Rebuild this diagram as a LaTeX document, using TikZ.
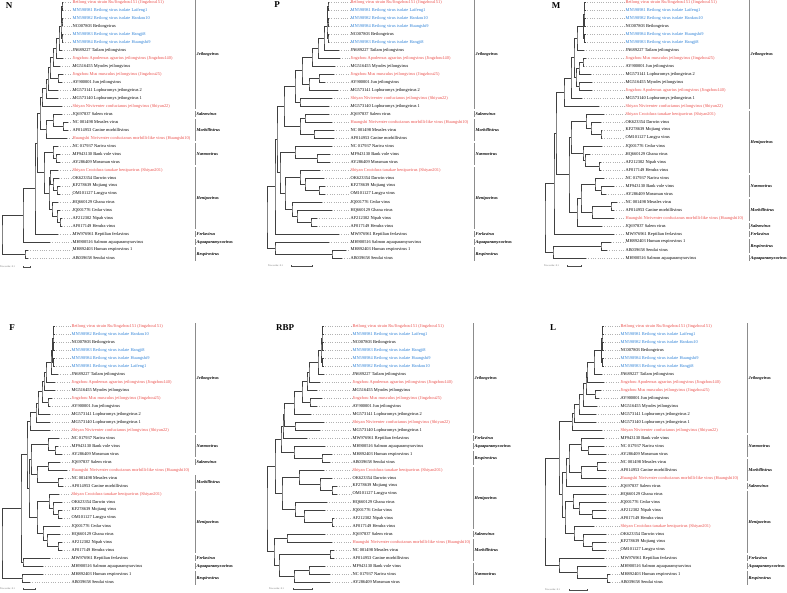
\documentclass[tikz,border=0pt]{standalone}
\usepackage{fontspec}
\setmainfont{Liberation Serif}
\usepackage{xcolor}
\usetikzlibrary{calc,arrows.meta}

\definecolor{novel}{RGB}{234,78,74}
\definecolor{isolate}{RGB}{44,128,214}

% taxon labels
\newcommand{\txjz}{\textcolor{novel}{Beilong virus strain Ru/Jingzhou151 (Jingzhou151)}}
\newcommand{\txlf}{\textcolor{isolate}{MN598981 Beilong virus isolate Laifeng1}}
\newcommand{\txhk}{\textcolor{isolate}{MN598982 Beilong virus isolate Hankou10}}
\newcommand{\txnc}{NC007803 Beilongvirus}
\newcommand{\txhj}{\textcolor{isolate}{MN598983 Beilong virus isolate Hangji8}}
\newcommand{\txhs}{\textcolor{isolate}{MN598984 Beilong virus isolate Huangshi9}}
\newcommand{\txtl}{JN689227 Tailam jeilongvirus}
\newcommand{\txapo}{\textcolor{novel}{Jingzhou Apodemus agrarius jeilongvirus (Jingzhou140)}}
\newcommand{\txmyo}{MG516455 Myodes jeilongvirus}
\newcommand{\txmus}{\textcolor{novel}{Jingzhou Mus musculus jeilongvirus (Jingzhou25)}}
\newcommand{\txjun}{AY900001 Jun jeilongvirus}
\newcommand{\txlotw}{MG573141 Lophuromys jeilongvirus 2}
\newcommand{\txlone}{MG573140 Lophuromys jeilongvirus 1}
\newcommand{\txniv}{\textcolor{novel}{Shiyan Niviventer confucianus jeilongvirus (Shiyan22)}}
\newcommand{\txsal}{JQ697837 Salem virus}
\newcommand{\txmea}{NC 001498 Measles virus}
\newcommand{\txcan}{AF014953 Canine morbillivirus}
\newcommand{\txmor}{\textcolor{novel}{Huangshi Niviventer confucianus morbilli-like virus (Huangshi10)}}
\newcommand{\txnar}{NC 017937 Nariva virus}
\newcommand{\txbvv}{MF943130 Bank vole virus}
\newcommand{\txmos}{AY286409 Mossman virus}
\newcommand{\txcro}{\textcolor{novel}{Shiyan Crocidura tanakae henipavirus (Shiyan201)}}
\newcommand{\txdar}{OK623354 Darwin virus}
\newcommand{\txmoj}{KF278639 Mojiang virus}
\newcommand{\txlan}{OM101127 Langya virus}
\newcommand{\txgha}{HQ660129 Ghana virus}
\newcommand{\txced}{JQ001776 Cedar virus}
\newcommand{\txnip}{AF212302 Nipah virus}
\newcommand{\txhen}{AF017149 Hendra virus}
\newcommand{\txfer}{MW976961 Reptilian ferlavirus}
\newcommand{\txaqu}{MH900516 Salmon aquaparamyxovirus}
\newcommand{\txhpiv}{MH892403 Human respirovirus 1}
\newcommand{\txsen}{AB039658 Sendai virus}

\tikzset{
  branch/.style={draw=black!75,line width=0.45pt},
  leader/.style={draw=black!30,dotted,line width=0.3pt},
  taxon/.style={anchor=west,inner sep=0.4pt,font=\fontsize{4.4}{4.8}\selectfont},
  bracket/.style={draw=black!45,line width=0.6pt},
  genusname/.style={anchor=west,inner sep=0.6pt,xshift=0.8pt,font=\fontsize{4.3}{4.8}\selectfont\bfseries\itshape},
  panel/.style={font=\fontsize{9}{10}\selectfont\bfseries,inner sep=0pt},
  scaletext/.style={anchor=west,inner sep=0pt,text=black!60,font=\fontsize{2.5}{3}\selectfont},
  scalebar/.style={draw=black!70,line width=0.5pt,{Bar[width=1.6pt]}-{Bar[width=1.6pt]}},
}

% leaf: key, tip x, row
\newcommand{\leafat}[3]{%
  \coordinate (#1) at (#2,{8*(#3-1)});
  \node[taxon] (#1t) at (\labx,{8*(#3-1)}) {\csname tx#1\endcsname};
  \draw[leader] (#1) -- (#1t.west);
}
% internal node: name, x, first child, second child
\newcommand{\forkat}[4]{%
  \path ($(#3)!0.5!(#4)$) coordinate (#1m);
  \path (#2,0) coordinate (#1x);
  \coordinate (#1) at (#1m -| #1x);
  \draw[branch] (#3) -| (#1) |- (#4);
}
% genus bracket: first row, last row, name
\newcommand{\genusbar}[3]{%
  \draw[bracket] (\brx,{8*(#1-1)-3}) -- node[genusname] (g#1) {#3} (\brx,{8*(#2-1)+3});
}

\begin{document}
\begin{tikzpicture}[x=1pt,y=-1pt]
\useasboundingbox (0,0) rectangle (787,592);

% N
\begin{scope}[shift={(0,2)}]
\def\labx{72}\def\brx{195}
\node[panel] (pN) at (9,4) {N};
\foreach \k/\xx [count=\r] in {jz/63,lf/63,hk/63,nc/62,hj/63,hs/63,tl/62,apo/63,myo/60,mus/63,jun/62,lotw/58,lone/58,niv/62,sal/62,mea/68,can/68,mor/67,nar/58,bvv/60,mos/60,cro/58,dar/59,moj/60,lan/60,gha/58,ced/60,nip/62,hen/62,fer/58,aqu/50,hpiv/28,sen/28}
  {\leafat{\k}{\xx}{\r}}
\foreach \nd/\xx/\ca/\cb in {b1/62/jz/lf,b2/62/hk/nc,b3/61.5/b1/b2,b4/62/hj/hs,b5/61/b3/b4,j1/59/b5/tl,j2/56/j1/apo,j3/53/j2/myo,j4/58/mus/jun,j5/50/j3/j4,j6/48/j5/lotw,j7/46/j6/lone,j8/42/j7/niv,m1/63/mea/can,m2/53/sal/m1,m3/46/m2/mor,a1/40/j8/m3,n1/56/bvv/mos,n2/53/nar/n1,h1/57/moj/lan,h2/53/dar/h1,h3/50/cro/h2,h4/60/nip/hen,h5/57/ced/h4,h6/52/gha/h5,h7/49/h3/h6,a2/44/n2/h7,a3/37/a1/a2,a4/35/a3/fer,a5/23/a4/aqu,r1/25/hpiv/sen,root/2/a5/r1}
  {\forkat{\nd}{\xx}{\ca}{\cb}}
\foreach \ga/\gb/\gn in {1/14/Jeilongvirus,15/15/Salemvirus,16/18/Morbillivirus,19/21/Narmovirus,22/29/Henipavirus,30/30/Ferlavirus,31/31/Aquaparamyxovirus,32/33/Respirovirus}
  {\genusbar{\ga}{\gb}{\gn}}
\node[scaletext] (sN) at (0,265) {Tree scale: 0.1};
\draw[scalebar] (23,265) -- (30,265);
\end{scope}

% P
\begin{scope}[shift={(262,2)}]
\def\labx{88}\def\brx{212}
\node[panel] (pP) at (15,3) {P};
\foreach \k/\xx [count=\r] in {jz/67,lf/67,hk/67,hs/67,nc/67,hj/67,tl/77,apo/78,myo/73,mus/72,jun/63,lotw/76,niv/70,lone/67,sal/67,mor/70,mea/72,can/72,nar/70,bvv/68,mos/68,cro/58,dar/62,moj/63,lan/63,ced/60,gha/70,nip/55,hen/55,fer/77,aqu/67,hpiv/84,sen/80}
  {\leafat{\k}{\xx}{\r}}
\foreach \nd/\xx/\ca/\cb in {b1/66/jz/lf,b2/66/hk/hs,b3/65.5/b1/b2,b4/66/nc/hj,b5/65/b3/b4,j1/62/b5/tl,j2/56/j1/apo,j3/50/j2/myo,j4/57/mus/jun,j5/47/j4/lotw,j6/40/j3/j5,j7/38/niv/lone,j8/33/j6/j7,m1/43/sal/mor,m2/52/mea/can,m3/38/m1/m2,a1/22/j8/m3,n1/55/bvv/mos,n2/33/nar/n1,h1/57/moj/lan,h2/43/dar/h1,h3/38/cro/h2,h4/49/nip/hen,h5/35/gha/h4,h6/30/ced/h5,h7/23/h3/h6,a2/18/n2/h7,a3/15/a1/a2,a4/13/a3/fer,r1/70/hpiv/sen,r2/13/aqu/r1,root/5/a4/r2}
  {\forkat{\nd}{\xx}{\ca}{\cb}}
\foreach \ga/\gb/\gn in {1/14/Jeilongvirus,15/15/Salemvirus,16/18/Morbillivirus,19/21/Narmovirus,22/29/Henipavirus,30/30/Ferlavirus,31/31/Aquaparamyxovirus,32/33/Respirovirus}
  {\genusbar{\ga}{\gb}{\gn}}
\node[scaletext] (sP) at (6,264) {Tree scale: 0.1};
\draw[scalebar] (29,264) -- (50,264);
\end{scope}

% M
\begin{scope}[shift={(524,2)}]
\def\labx{101}\def\brx{225}
\node[panel] (pM) at (32,4) {M};
\foreach \k/\xx [count=\r] in {jz/61,lf/61,hk/61,nc/61,hs/61,hj/61,tl/60,mus/62,jun/60,lotw/67,myo/68,apo/68,lone/58,niv/75,cro/80,dar/77,moj/78,lan/78,ced/78,gha/66,nip/77,hen/77,nar/80,bvv/90,mos/82,mea/93,can/90,mor/90,sal/78,fer/90,hpiv/87,sen/83,aqu/62}
  {\leafat{\k}{\xx}{\r}}
\foreach \nd/\xx/\ca/\cb in {b1/60.5/jz/lf,b2/60.5/hk/nc,b3/60/b1/b2,b4/60.5/hs/hj,b5/59.5/b3/b4,j1/53/b5/tl,j2/59/mus/jun,j3/55/j2/lotw,j4/55/myo/apo,j5/52/j3/j4,j6/50/j1/j5,j7/47/j6/lone,j8/40/j7/niv,h1/77/moj/lan,h2/67/dar/h1,h3/62/cro/h2,h4/75/nip/hen,h5/61/gha/h4,h6/59/ced/h5,h7/47/h3/h6,n1/77/bvv/mos,n2/71/nar/n1,m1/87/mea/can,m2/68/m1/mor,a1/57/n2/m2,a2/53/a1/sal,a3/45/h7/a2,a4/32/j8/a3,a5/30/a4/fer,r1/77/hpiv/sen,r2/29/r1/aqu,root/21/a5/r2}
  {\forkat{\nd}{\xx}{\ca}{\cb}}
\foreach \ga/\gb/\gn in {1/14/Jeilongvirus,15/22/Henipavirus,23/25/Narmovirus,26/28/Morbillivirus,29/29/Salemvirus,30/30/Ferlavirus,31/32/Respirovirus,33/33/Aquaparamyxovirus}
  {\genusbar{\ga}{\gb}{\gn}}
\node[scaletext] (sM) at (20,264) {Tree scale: 0.1};
\draw[scalebar] (43,264) -- (57,264);
\end{scope}

% F
\begin{scope}[shift={(0,326)}]
\def\labx{71}\def\brx{195}
\node[panel] (pF) at (12,2) {F};
\foreach \k/\xx [count=\r] in {jz/54,hk/54,nc/54,hj/54,hs/54,lf/54,tl/58,apo/55,myo/55,mus/52,jun/50,lotw/50,lone/50,niv/50,nar/59,bvv/58,mos/62,sal/60,mor/67,mea/63,can/63,cro/59,dar/62,moj/62,lan/62,ced/60,gha/60,nip/62,hen/62,fer/50,aqu/43,hpiv/43,sen/30}
  {\leafat{\k}{\xx}{\r}}
\foreach \nd/\xx/\ca/\cb in {b1/53.5/jz/hk,b2/53.5/nc/hj,b3/53/b1/b2,b4/53.5/hs/lf,b5/52.5/b3/b4,j1/51/b5/tl,j2/46/j1/apo,j3/44/j2/myo,j4/48/mus/jun,j5/42/j3/j4,j6/38/j5/lotw,j7/36/j6/lone,j8/30/j7/niv,n1/55/bvv/mos,n2/48/nar/n1,s1/48/sal/mor,m1/58/mea/can,m2/37/s1/m1,a1/31/n2/m2,h1/58/moj/lan,h2/53/dar/h1,h3/49/cro/h2,h4/58/nip/hen,h5/47/gha/h4,h6/43/ced/h5,h7/37/h3/h6,a2/29/a1/h7,a3/27/j8/a2,a4/23/fer/aqu,a5/21/a3/a4,r1/22/hpiv/sen,root/2/a5/r1}
  {\forkat{\nd}{\xx}{\ca}{\cb}}
\foreach \ga/\gb/\gn in {1/14/Jeilongvirus,15/17/Narmovirus,18/18/Salemvirus,20/21/Morbillivirus,22/29/Henipavirus,30/30/Ferlavirus,31/31/Aquaparamyxovirus,32/33/Respirovirus}
  {\genusbar{\ga}{\gb}{\gn}}
\node[scaletext] (sF) at (0,263) {Tree scale: 0.1};
\draw[scalebar] (23,263) -- (35,263);
\end{scope}

% RBP
\begin{scope}[shift={(262,326)}]
\def\labx{90}\def\brx{211}
\node[panel] (pRBP) at (23,2) {RBP};
\foreach \k/\xx [count=\r] in {jz/61,lf/61,nc/61,hj/61,hs/61,hk/61,tl/62,apo/58,myo/55,mus/60,jun/55,lotw/49,niv/62,lone/58,fer/45,aqu/63,hpiv/70,sen/68,cro/62,dar/70,moj/75,lan/75,gha/65,ced/63,nip/72,hen/72,sal/63,mor/70,mea/72,can/72,bvv/63,nar/68,mos/68}
  {\leafat{\k}{\xx}{\r}}
\foreach \nd/\xx/\ca/\cb in {b1/60.5/jz/lf,b2/60.5/nc/hj,b3/60/b1/b2,b4/60.5/hs/hk,b5/59/b3/b4,j1/56/b5/tl,j2/47/j1/apo,j3/45/j2/myo,j4/48/mus/jun,j5/40/j3/j4,j6/32/j5/lotw,j7/33/niv/lone,j8/22/j6/j7,a1/21/j8/fer,r1/60/hpiv/sen,r2/32/aqu/r1,a2/19/a1/r2,h1/70/moj/lan,h2/58/dar/h1,h3/37/cro/h2,h4/70/nip/hen,h5/42/ced/h4,h6/33/gha/h5,h7/20/h3/h6,a3/13/a2/h7,s1/25/sal/mor,m1/68/mea/can,n1/47/bvv/nar,n2/32/n1/mos,m2/17/m1/n2,a4/12/s1/m2,root/5/a3/a4}
  {\forkat{\nd}{\xx}{\ca}{\cb}}
\foreach \ga/\gb/\gn in {1/14/Jeilongvirus,15/15/Ferlavirus,16/16/Aquaparamyxovirus,17/18/Respirovirus,19/26/Henipavirus,27/27/Salemvirus,28/30/Morbillivirus,31/33/Narmovirus}
  {\genusbar{\ga}{\gb}{\gn}}
\node[scaletext] (sRBP) at (7,263) {Tree scale: 0.1};
\draw[scalebar] (31,263) -- (50,263);
\end{scope}

% L
\begin{scope}[shift={(524,326)}]
\def\labx{96}\def\brx{223}
\node[panel] (pL) at (29,2) {L};
\foreach \k/\xx [count=\r] in {jz/79,lf/79,hk/79,nc/79,hs/79,hj/79,tl/78,apo/80,mus/77,jun/75,myo/73,lotw/72,lone/72,niv/78,bvv/80,nar/80,mos/82,mea/82,can/82,mor/82,sal/82,gha/82,ced/82,nip/82,hen/82,cro/70,dar/82,moj/82,lan/82,fer/80,aqu/82,hpiv/86,sen/86}
  {\leafat{\k}{\xx}{\r}}
\foreach \nd/\xx/\ca/\cb in {b1/78.5/jz/lf,b2/78.5/hk/nc,b3/78/b1/b2,b4/78.5/hs/hj,b5/77.5/b3/b4,j1/70/b5/tl,j2/63/j1/apo,j3/71/mus/jun,j4/62/j2/j3,j5/59/j4/myo,j6/55/j5/lotw,j7/50/j6/lone,j8/48/j7/niv,n1/64/nar/mos,n2/57/bvv/n1,m1/73/mea/can,m2/57/m1/mor,a1/45/n2/m2,a2/42/a1/sal,h1/68/nip/hen,h2/55/ced/h1,h3/49/gha/h2,h4/68/moj/lan,h5/59/dar/h4,h6/50/cro/h5,h7/41/h3/h6,a3/38/a2/h7,a4/35/j8/a3,r1/83/hpiv/sen,r2/53/aqu/r1,a5/35/fer/r2,root/21/a4/a5}
  {\forkat{\nd}{\xx}{\ca}{\cb}}
\foreach \ga/\gb/\gn in {1/14/Jeilongvirus,15/17/Narmovirus,18/20/Morbillivirus,21/21/Salemvirus,22/29/Henipavirus,30/30/Ferlavirus,31/31/Aquaparamyxovirus,32/33/Respirovirus}
  {\genusbar{\ga}{\gb}{\gn}}
\node[scaletext] (sL) at (21,264) {Tree scale: 0.1};
\draw[scalebar] (45,264) -- (63,264);
\end{scope}
\end{tikzpicture}
\end{document}
